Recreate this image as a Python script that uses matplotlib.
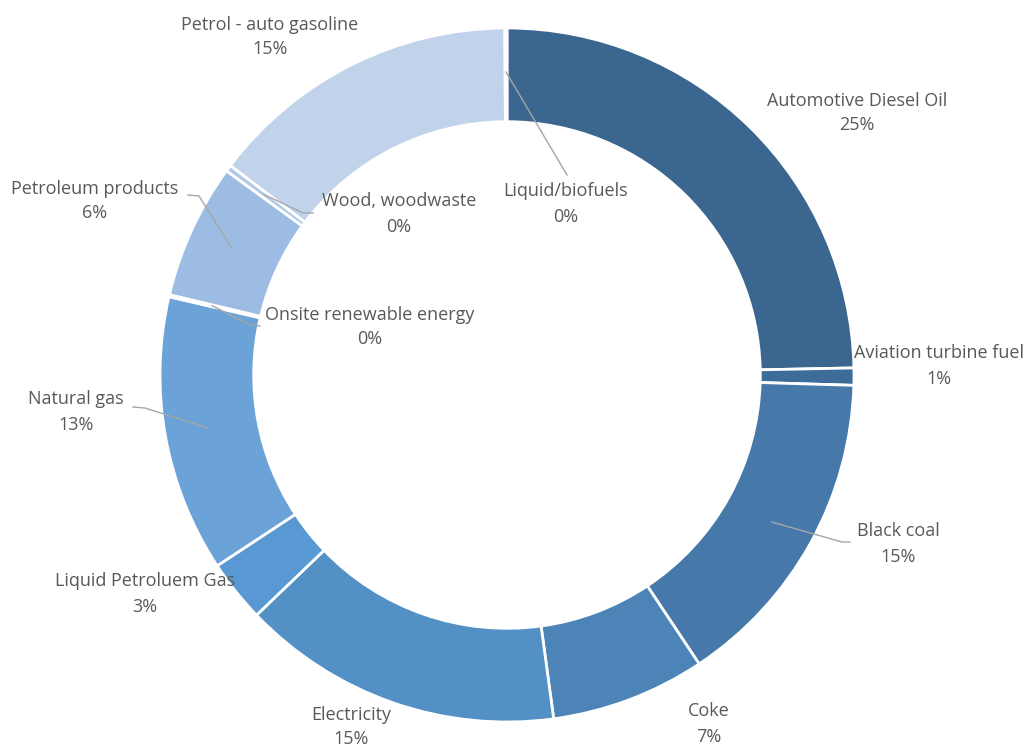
import matplotlib
matplotlib.use('Agg')
import numpy as np
import matplotlib.pyplot as plt

# fuel shares, clockwise from 12 o'clock
fuels = ['Automotive Diesel Oil', 'Aviation turbine fuel', 'Black coal', 'Coke',
         'Electricity', 'Liquid Petroluem Gas', 'Natural gas', 'Onsite renewable energy',
         'Petroleum products', 'Wood, woodwaste', 'Petrol - auto gasoline', 'Liquid/biofuels']
shares = [24.7, 0.8, 15.2, 7.2, 15.0, 2.9, 12.9, 0.1, 6.3, 0.3, 14.6, 0.1]
colors = ['#3a6690', '#3e6c99', '#4679a9', '#4c84b8', '#5290c6', '#5999d3',
          '#6ba2d8', '#85b0e0', '#9dbce3', '#b0c9e8', '#c1d3ea', '#3a6690']

# label text centres (px, top-left origin) and leader line tails
label_pos = [(857, 113), (939, 366), (898, 544), (709, 724), (351, 727), (145, 594),
             (76, 412), (370, 327), (95, 201), (399, 214), (270, 37), (566, 204)]
leader_end = [None, None, [(842, 542), (850, 542)], None, None, None,
              [(145, 408), (133, 407)], [(250, 325), (260, 326)],
              [(199, 196), (188, 195)], [(303, 213), (313, 213)], None, [(567, 175)]]

W, H = 1029, 749
cx, cy, R = 507, 375, 347

fig = plt.figure(figsize=(W / 100, H / 100), dpi=100)
ax = fig.add_axes([0, 0, 1, 1])

wedges, _ = ax.pie(shares, colors=colors, startangle=90, counterclock=False,
                   center=(cx, H - cy), radius=R, frame=True,
                   wedgeprops=dict(width=R * 0.27, edgecolor='white', linewidth=2))
ax.set_xlim(0, W)
ax.set_ylim(0, H)
ax.set_aspect('equal')
ax.axis('off')

total = sum(shares)
for w, name, val, (lx, ly), tail in zip(wedges, fuels, shares, label_pos, leader_end):
    ax.text(lx, H - ly, f'{name}\n{val / total * 100:.0f}%', ha='center', va='center',
            fontsize=13, color='#595959', family='Open Sans', linespacing=1.5)
    if tail is None:
        continue
    mid = np.deg2rad((w.theta1 + w.theta2) / 2)
    r0 = R * 0.873
    xs = [cx + r0 * np.cos(mid)] + [p[0] for p in tail]
    ys = [H - cy + r0 * np.sin(mid)] + [H - p[1] for p in tail]
    ax.plot(xs, ys, color='#a6a6a6', lw=1)

fig.savefig('out.png', dpi=100, facecolor='white')
